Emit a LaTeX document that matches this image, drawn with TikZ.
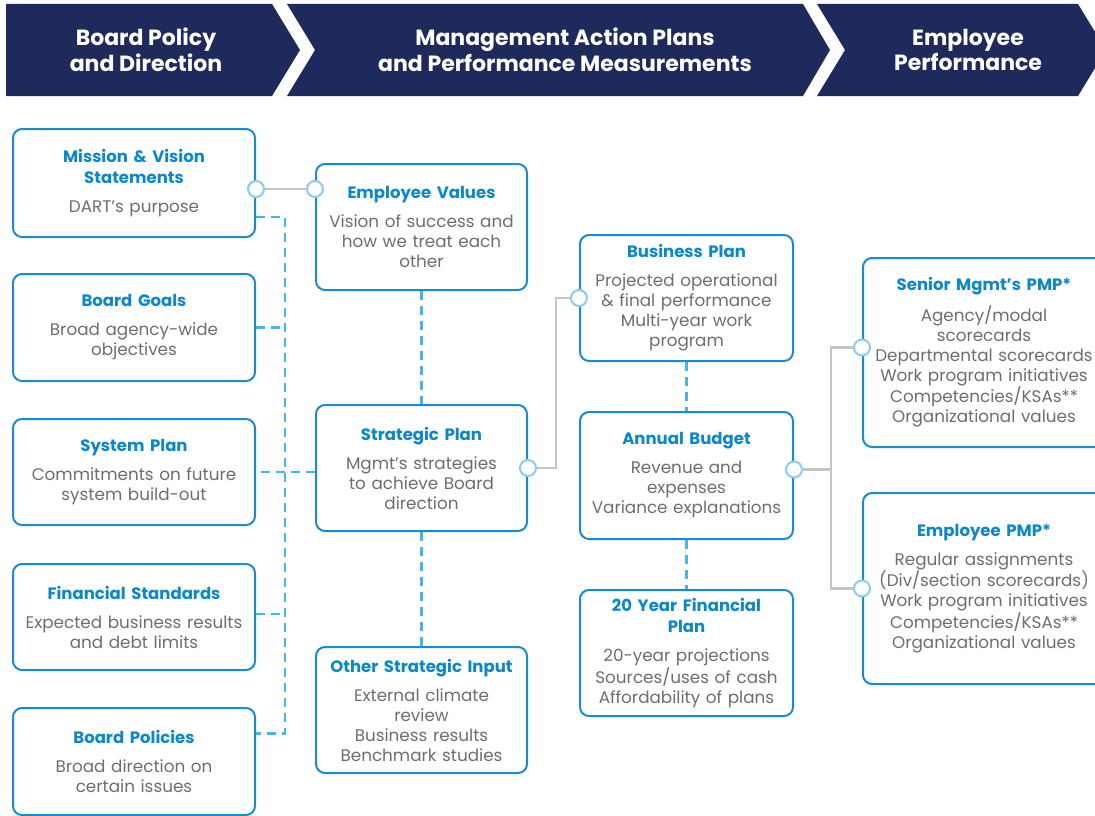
\documentclass[tikz,border=0pt]{standalone}
\usepackage{fontspec}
\setmainfont{Poppins}
\usepackage{tikz}
\usetikzlibrary{positioning}

\definecolor{navy}{HTML}{1F2A5C}
\definecolor{boxblue}{HTML}{1A8AD4}
\definecolor{ttlblue}{HTML}{0B87CC}
\definecolor{bodygray}{HTML}{6D6E71}
\definecolor{dotblue}{HTML}{8CCBEF}
\definecolor{dashblue}{HTML}{4CB3E8}
\definecolor{linkgray}{HTML}{C4C4C4}

\newcommand{\boxtxt}[2]{{\color{ttlblue}\fontsize{16.5}{21}\selectfont\bfseries #1\par}\vspace{9pt}{#2\par}}

\begin{document}
\begin{tikzpicture}[x=1pt,y=-1pt,
  band/.style={fill=navy},
  bandtext/.style={text=white,font=\fontsize{22}{25.5}\selectfont\bfseries,align=center},
  card/.style={draw=boxblue,line width=2pt,rounded corners=9pt,fill=white,
    text=bodygray,font=\fontsize{16.8}{20}\selectfont,align=center,inner sep=0pt},
  wide/.style={card,minimum width=242pt,text width=236pt},
  mid/.style={card,minimum width=211pt,text width=207pt},
  dot/.style={circle,draw=dotblue,line width=2pt,fill=white,minimum size=16pt,inner sep=0pt},
  link/.style={draw=linkgray,line width=2.8pt},
  dashlink/.style={draw=dashblue,line width=2.5pt,dash pattern=on 9pt off 6pt}]
\useasboundingbox (0,0) rectangle (1095,816);

% define the header bands
  \fill[band] (6,4) -- (272,4) -- (300,50) -- (272,96) -- (6,96) -- cycle;
  \fill[band] (287,4) -- (803,4) -- (830,50) -- (803,96) -- (287,96) -- (315,50) -- cycle;
  \fill[band] (817,4) -- (1078,4) -- (1106,50) -- (1078,96) -- (817,96) -- (845,50) -- cycle;
  \node[bandtext] (hboard) at (146,50) {Board Policy\\and Direction};
  \node[bandtext] (hmgmt)  at (565,50) {Management Action Plans\\and Performance Measurements};
  \node[bandtext] (hemp)   at (968,50) {Employee\\Performance};

% define the cards
  \node[wide,minimum height=108pt] (mission)  at (134,183)   {\boxtxt{Mission \& Vision\\Statements}{DART’s purpose}};
  \node[wide,minimum height=107pt] (goals)    at (134,327.5) {\boxtxt{Board Goals}{Broad agency-wide\\objectives}};
  \node[wide,minimum height=106pt] (sysplan)  at (134,472)   {\boxtxt{System Plan}{Commitments on future\\system build-out}};
  \node[wide,minimum height=106pt] (finstd)   at (134,617)   {\boxtxt{Financial Standards}{Expected business results\\and debt limits}};
  \node[wide,minimum height=107pt] (policies) at (134,761.5) {\boxtxt{Board Policies}{Broad direction on\\certain issues}};

  \node[mid,minimum height=126pt] (values)    at (421.5,227) {\boxtxt{Employee Values}{Vision of success and\\how we treat each\\other}};
  \node[mid,minimum height=126pt] (strategic) at (421.5,468) {\boxtxt{Strategic Plan}{Mgmt’s strategies\\to achieve Board\\direction}};
  \node[mid,minimum height=126pt] (other)     at (421.5,710) {\boxtxt{Other Strategic Input}{External climate\\review\\Business results\\Benchmark studies}};

  \node[mid,minimum width=213pt,minimum height=126pt] (business) at (686.5,298)   {\boxtxt{Business Plan}{Projected operational\\\& final performance\\Multi-year work\\program}};
  \node[mid,minimum width=213pt,minimum height=127pt] (budget)   at (686.5,475.5) {\boxtxt{Annual Budget}{Revenue and\\expenses\\Variance explanations}};
  \node[mid,minimum width=213pt,minimum height=126pt] (twenty)   at (686.5,653)   {\boxtxt{20 Year Financial\\Plan}{20-year projections\\Sources/uses of cash\\Affordability of plans}};

  \node[wide,minimum height=189pt] (senior)   at (984,352.5) {\boxtxt{Senior Mgmt’s PMP*}{Agency/modal\\scorecards\\Departmental scorecards\\Work program initiatives\\Competencies/KSAs**\\Organizational values}};
  \node[wide,minimum height=191pt] (employee) at (984,588.5) {\boxtxt{Employee PMP*}{Regular assignments\\(Div/section scorecards)\\Work program initiatives\\Competencies/KSAs**\\Organizational values}};

% define the dashed links
  \coordinate (trunk) at (285,217);
  \coordinate (pol) at ([yshift=28pt]policies.east);
  \draw[dashlink] ([yshift=-34pt]mission.east) -- (trunk) -- (trunk |- pol) -- (pol);
  \draw[dashlink] (goals.east) -- (goals.east -| trunk);
  \draw[dashlink] ([yshift=3pt]finstd.east) -- ([yshift=3pt]finstd.east -| trunk);
  \draw[dashlink] (strategic.west |- sysplan.east) -- (sysplan.east);
  \draw[dashlink] (values) -- (strategic) (strategic) -- (other);
  \draw[dashlink] (business) -- (budget) (budget) -- (twenty);

% define the solid links
  \node[dot] (dmission) at ([yshift=-6pt]mission.east) {};
  \node[dot] (dvalues)  at ([yshift=38pt]values.west) {};
  \node[dot] (dstrat)   at (strategic.east) {};
  \node[dot] (dbiz)     at (business.west) {};
  \node[dot] (dbudget)  at ([yshift=6pt]budget.east) {};
  \node[dot] (dsenior)  at ([yshift=5pt]senior.west) {};
  \node[dot] (demp)     at (employee.west) {};
  \draw[link] (dmission) -- (dvalues);
  \draw[link] (dstrat) -- ++(28,0) |- (dbiz);
  \draw[link] (dbudget) -- ++(37,0) coordinate (fork);
  \draw[link] (dsenior) -| (fork) |- (demp);
\end{tikzpicture}
\end{document}
